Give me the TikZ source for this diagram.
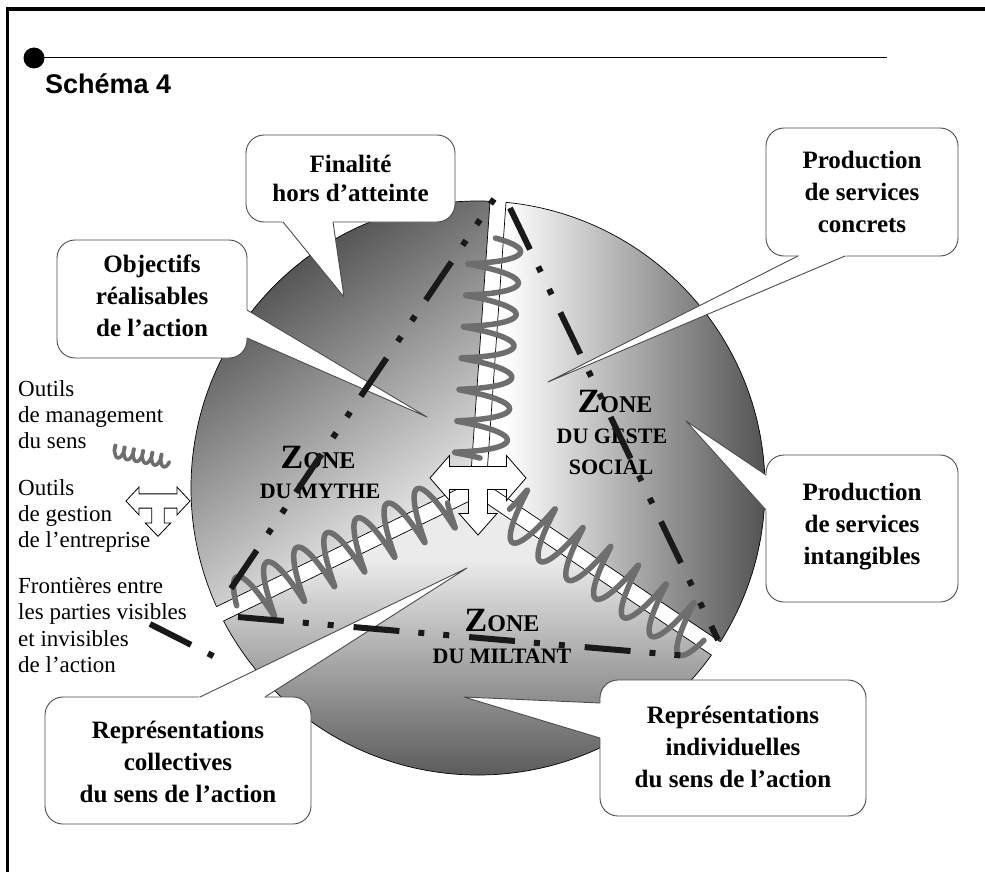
\documentclass[tikz,border=0pt]{standalone}
\usepackage{fontspec}
\setmainfont{Liberation Serif}
\newfontfamily\titlefont{Liberation Sans}
\usetikzlibrary{calc}
\definecolor{coilgray}{RGB}{110,110,110}
\newcommand\sectorpath[3]{($(#1)+(#2:600pt)$) -- (#1) -- ($(#1)+(#3:600pt)$) -- ($(#1)+({(#2+#3)/2}:1200pt)$) -- cycle}
\newcommand\sectoroutline[3]{%
  \begin{scope}\clip \sectorpath{#1}{#2}{#3}; \draw[outl] (J) circle[radius=287pt];\end{scope}
  \begin{scope}\clip (J) circle[radius=287pt]; \draw[outl] ($(#1)+(#2:400pt)$) -- (#1) -- ($(#1)+(#3:400pt)$);\end{scope}}
\newcommand\mycallout[5]{%
  \filldraw[cbox] #1 rectangle #2;
  \fill[white] ($#3!-4pt!#5$) -- #5 -- ($#4!-4pt!#5$) -- cycle;
  \draw[cline] #3 -- #5 -- #4;}
% helix: #1 start coordinate, #2 angle, #3 pitch, #4 turns, #5 amplitude, #6 skew, #7 line width
\newcommand\myhelix[7]{%
  \begin{scope}[shift={(#1)},rotate=#2]
    \draw[draw=coilgray,line width=#7,line cap=round,line join=round]
      plot[domain=0:#4*360,samples=#4*40+1,smooth,variable=\t]
      ({\t/360*#3+#6*cos(\t)-#6},{#5*sin(\t)});
  \end{scope}}
\begin{document}
\begin{tikzpicture}[x=1pt,y=1pt,
  cbox/.style={fill=white,draw=black!70,line width=0.9pt,rounded corners=18pt},
  cline/.style={draw=black!70,line width=0.9pt,line join=round},
  ctext/.style={font=\fontsize{25}{30}\selectfont\bfseries,anchor=base,inner sep=0pt},
  ltext/.style={font=\fontsize{23}{26}\selectfont,anchor=base west,inner sep=0pt},
  ztext/.style={font=\fontsize{22}{24}\selectfont\bfseries,anchor=base,inner sep=0pt},
  outl/.style={draw=black,line width=0.7pt},
  dashline/.style={draw=black!90,line width=6pt,dash pattern=on 46pt off 19pt on 6pt off 19pt on 6pt off 20pt},
  tarrow/.pic={\draw[fill=white,line width=0.8pt,line join=miter] (-48,0) -- (-28.5,22.5) -- (-28.5,11.5) -- (28.5,11.5) -- (28.5,22.5) -- (48,0) -- (28.5,-22.5) -- (28.5,-11.5) -- (9.5,-11.5) -- (9.5,-35.5) -- (19,-35.5) -- (0,-57) -- (-19,-35.5) -- (-9.5,-35.5) -- (-9.5,-11.5) -- (-28.5,-11.5) -- (-28.5,-22.5) -- cycle;}
]
\useasboundingbox (0,0) rectangle (985,-872);
\fill[white] (0,0) rectangle (985,-872);
% frame and title
\draw[line width=3.3pt,line join=miter] (7.6,-872) -- (7.6,-9) -- (985,-9);
\draw[line width=1.3pt] (34,-57.5) -- (887,-57.5);
\fill (34,-58) circle[radius=10.5pt];
\node[font=\titlefont\bfseries\fontsize{27}{30}\selectfont,anchor=base west,inner sep=0pt] (title) at (45,-94) {Schéma 4};

% sectors
\coordinate (J) at (478,-488);
\coordinate (Pm) at ($(J)+(146:9.24pt)$);
\coordinate (Pg) at ($(J)+(26:9.24pt)$);
\coordinate (Pb) at ($(J)+(266:9.24pt)$);
\begin{scope}
  \clip \sectorpath{Pm}{86}{206};
  \clip (J) circle[radius=287pt];
  \shade[top color=black!78,bottom color=white,shading angle=35] (180,-185) rectangle (500,-615);
\end{scope}
\begin{scope}
  \clip \sectorpath{Pg}{-34}{86};
  \clip (J) circle[radius=287pt];
  \shade[left color=white,right color=black!68] (505,-195) rectangle (767,-660);
\end{scope}
\begin{scope}
  \clip \sectorpath{Pb}{206}{326};
  \clip (J) circle[radius=287pt];
  \fill[black!8] (180,-480) rectangle (780,-560);
  \shade[top color=black!8,bottom color=black!65] (180,-560) rectangle (780,-778);
\end{scope}
\sectoroutline{Pm}{86}{206}
\sectoroutline{Pg}{-34}{86}
\sectoroutline{Pb}{206}{326}

% springs
\coordinate (v1) at ($(J)+(86:30pt)$);
\coordinate (l1) at ($(J)+(206:34pt)$);
\coordinate (r1) at ($(J)+(326:38pt)$);
\myhelix{v1}{86}{31.5}{7}{26}{4}{5.5pt}
\myhelix{l1}{206}{33.5}{7}{26}{4.2}{5.5pt}
\myhelix{r1}{326}{33.5}{7}{26}{4.2}{5.5pt}

% central T arrow
\pic (tmain) at (478,-478) {tarrow};

% callouts
\mycallout{(246,-135)}{(455,-222)}{(283,-222)}{(333,-222)}{(344,-297)}
\mycallout{(57,-240)}{(247,-358)}{(247,-310)}{(247,-338)}{(427,-417)}
\mycallout{(766,-128)}{(958,-256)}{(798,-256)}{(845,-256)}{(548,-382)}
\mycallout{(766,-455)}{(958,-602)}{(766,-475)}{(766,-510)}{(686,-421)}
\mycallout{(45,-697)}{(311,-824)}{(200,-697)}{(265,-697)}{(467,-568)}
\mycallout{(600,-680)}{(866,-816)}{(600,-703)}{(600,-738)}{(464,-697)}

\node[ctext] (f1) at (350.5,-172) {Finalité};
\node[ctext] (f2) at (350.5,-201) {hors d’atteinte};
\node[ctext] (o1) at (152,-272) {Objectifs};
\node[ctext] (o2) at (152,-304) {réalisables};
\node[ctext] (o3) at (152,-336) {de l’action};
\node[ctext] (c1) at (862,-168) {Production};
\node[ctext] (c2) at (862,-200) {de services};
\node[ctext] (c3) at (862,-232) {concrets};
\node[ctext] (i1) at (862,-500) {Production};
\node[ctext] (i2) at (862,-532) {de services};
\node[ctext] (i3) at (862,-564) {intangibles};
\node[ctext] (rc1) at (178,-738) {Représentations};
\node[ctext] (rc2) at (178,-770) {collectives};
\node[ctext] (rc3) at (178,-802) {du sens de l’action};
\node[ctext] (ri1) at (733,-723) {Représentations};
\node[ctext] (ri2) at (733,-755) {individuelles};
\node[ctext] (ri3) at (733,-787) {du sens de l’action};

% zone labels
\node[ztext] (zm1) at (318,-468) {{\fontsize{34}{34}\selectfont Z}{\fontsize{24}{24}\selectfont ONE}};
\node[ztext] (zm2) at (320,-498) {DU MYTHE};
\node[ztext] (zg1) at (615,-412) {{\fontsize{34}{34}\selectfont Z}{\fontsize{24}{24}\selectfont ONE}};
\node[ztext] (zg2) at (612,-443) {DU GESTE};
\node[ztext] (zg3) at (611,-474) {SOCIAL};
\node[ztext] (zb1) at (502,-631) {{\fontsize{34}{34}\selectfont Z}{\fontsize{24}{24}\selectfont ONE}};
\node[ztext] (zb2) at (502,-663) {DU MILTANT};

% legend
\node[ltext] (la1) at (18,-396) {Outils};
\node[ltext] (la2) at (18,-422) {de management};
\node[ltext] (la3) at (18,-448) {du sens};
\node[ltext] (lb1) at (18,-495) {Outils};
\node[ltext] (lb2) at (18,-521) {de gestion};
\node[ltext] (lb3) at (18,-547) {de l’entreprise};
\node[ltext] (lc1) at (18,-593) {Frontières entre};
\node[ltext] (lc2) at (18,-619) {les parties visibles};
\node[ltext] (lc3) at (18,-646) {et invisibles};
\node[ltext] (lc4) at (18,-672) {de l’action};
\coordinate (LC1) at (114,-451);
\myhelix{LC1}{-11}{9.4}{6}{6}{2}{3.5pt}
\pic[xscale=0.667,yscale=0.62] (tleg) at (158,-501) {tarrow};

% dash-dot boundaries
\coordinate (A1) at (494,-199); \coordinate (A2) at (230,-590);
\coordinate (B1) at (510,-208); \coordinate (B2) at (718,-640);
\coordinate (C1) at (238,-617); \coordinate (C2) at (699,-657);
\coordinate (L1) at (150,-624); \coordinate (L2) at (219,-659);
\draw[dashline,dash phase=40pt] (A1) -- (A2);
\draw[dashline] (B1) -- (B2);
\draw[dashline] (C1) -- (C2);
\draw[dashline] (L1) -- (L2);
\end{tikzpicture}
\end{document}
